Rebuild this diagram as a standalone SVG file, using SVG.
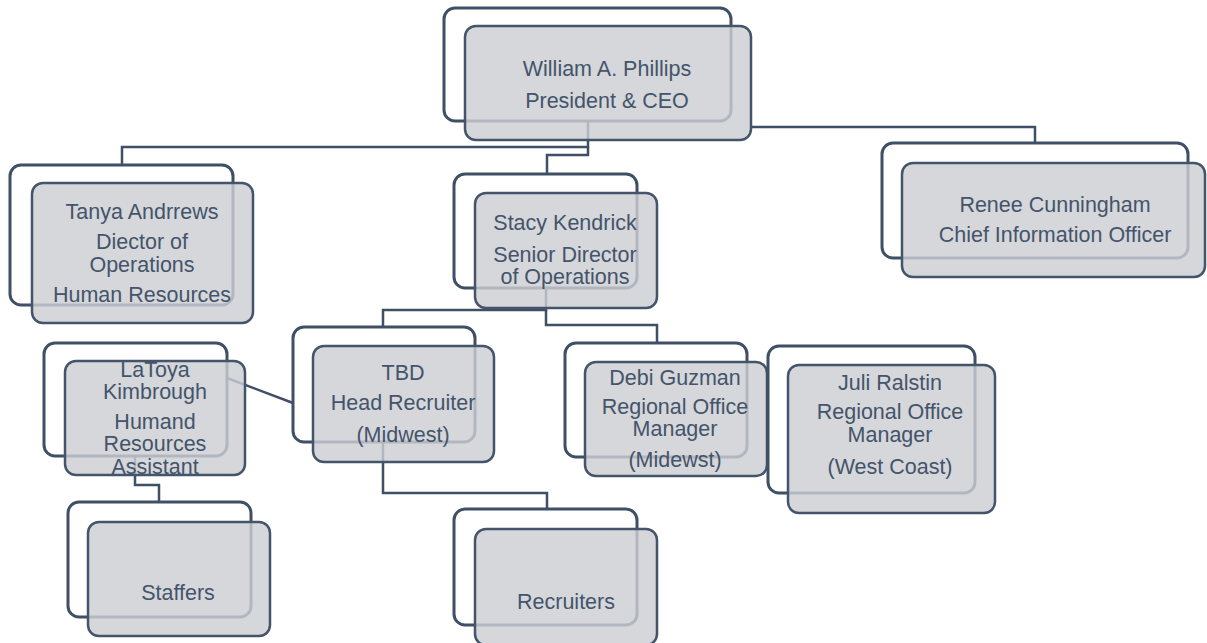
<svg xmlns="http://www.w3.org/2000/svg" width="1207" height="643" viewBox="0 0 1207 643">
<style>
.bk{fill:#ffffff;stroke:#3f4f66;stroke-width:3}
.fr{fill:#ccced3;fill-opacity:0.82;stroke:#44546a;stroke-width:2.5}
.cn{fill:none;stroke:#3f4f66;stroke-width:2.5}
text{font-family:"Liberation Sans",Arial,sans-serif;font-size:21.5px;fill:#44546a;text-anchor:middle}
</style>
<rect width="1207" height="643" fill="#ffffff"/>
<g id="connectors">
<polyline class="cn" points="588,120 588,147 122,147 122,165"/>
<polyline class="cn" points="588,147 588,155 547,155 547,174"/>
<polyline class="cn" points="751,127 1035,127 1035,143"/>
<polyline class="cn" points="546,288 546,310 383,310 383,327"/>
<polyline class="cn" points="546,310 546,325 657,325 657,343"/>
<polyline class="cn" points="383,442 383,493 547,493 547,509"/>
<polyline class="cn" points="135,456 135,485 159,485 159,502"/>
<line class="cn" x1="227" y1="378" x2="293" y2="403"/>
</g>
<g id="ceo">
<rect class="bk" x="444" y="8" width="287" height="113" rx="11"/>
<rect class="fr" x="465" y="26" width="286" height="114" rx="11"/>
<text x="607" y="76">William A. Phillips</text>
<text x="607" y="108">President &amp; CEO</text>
</g>
<g id="tanya">
<rect class="bk" x="10" y="165" width="223" height="140" rx="11"/>
<rect class="fr" x="32" y="183" width="221" height="140" rx="11"/>
<text x="142" y="219">Tanya Andrrews</text>
<text x="142" y="249">Diector of</text>
<text x="142" y="272">Operations</text>
<text x="142" y="302">Human Resources</text>
</g>
<g id="stacy">
<rect class="bk" x="454" y="174" width="183" height="114" rx="11"/>
<rect class="fr" x="475" y="193" width="182" height="115" rx="11"/>
<text x="565" y="230">Stacy Kendrick</text>
<text x="565" y="262">Senior Director</text>
<text x="565" y="284">of Operations</text>
</g>
<g id="renee">
<rect class="bk" x="882" y="143" width="306" height="115" rx="11"/>
<rect class="fr" x="902" y="163" width="303" height="114" rx="11"/>
<text x="1055" y="212">Renee Cunningham</text>
<text x="1055" y="242">Chief Information Officer</text>
</g>
<g id="latoya">
<rect class="bk" x="44" y="343" width="183" height="113" rx="11"/>
<rect class="fr" x="65" y="361" width="180" height="114" rx="11"/>
<text x="155" y="377">LaToya</text>
<text x="155" y="399">Kimbrough</text>
<text x="155" y="429">Humand</text>
<text x="155" y="451">Resources</text>
<text x="155" y="474">Assistant</text>
</g>
<g id="tbd">
<rect class="bk" x="293" y="327" width="182" height="115" rx="11"/>
<rect class="fr" x="313" y="346" width="181" height="116" rx="11"/>
<text x="403" y="380">TBD</text>
<text x="403" y="410">Head Recruiter</text>
<text x="403" y="442">(Midwest)</text>
</g>
<g id="debi">
<rect class="bk" x="565" y="343" width="182" height="114" rx="11"/>
<rect class="fr" x="585" y="362" width="182" height="114" rx="11"/>
<text x="675" y="385">Debi Guzman</text>
<text x="675" y="414">Regional Office</text>
<text x="675" y="436">Manager</text>
<text x="675" y="467">(Midewst)</text>
</g>
<g id="juli">
<rect class="bk" x="768" y="346" width="207" height="147" rx="11"/>
<rect class="fr" x="788" y="365" width="207" height="148" rx="11"/>
<text x="890" y="390">Juli Ralstin</text>
<text x="890" y="419">Regional Office</text>
<text x="890" y="442">Manager</text>
<text x="890" y="474">(West Coast)</text>
</g>
<g id="staffers">
<rect class="bk" x="68" y="502" width="183" height="115" rx="11"/>
<rect class="fr" x="88" y="522" width="182" height="114" rx="11"/>
<text x="178" y="600">Staffers</text>
</g>
<g id="recruiters">
<rect class="bk" x="454" y="509" width="183" height="116" rx="11"/>
<rect class="fr" x="475" y="529" width="182" height="116" rx="11"/>
<text x="566" y="609">Recruiters</text>
</g>
</svg>
